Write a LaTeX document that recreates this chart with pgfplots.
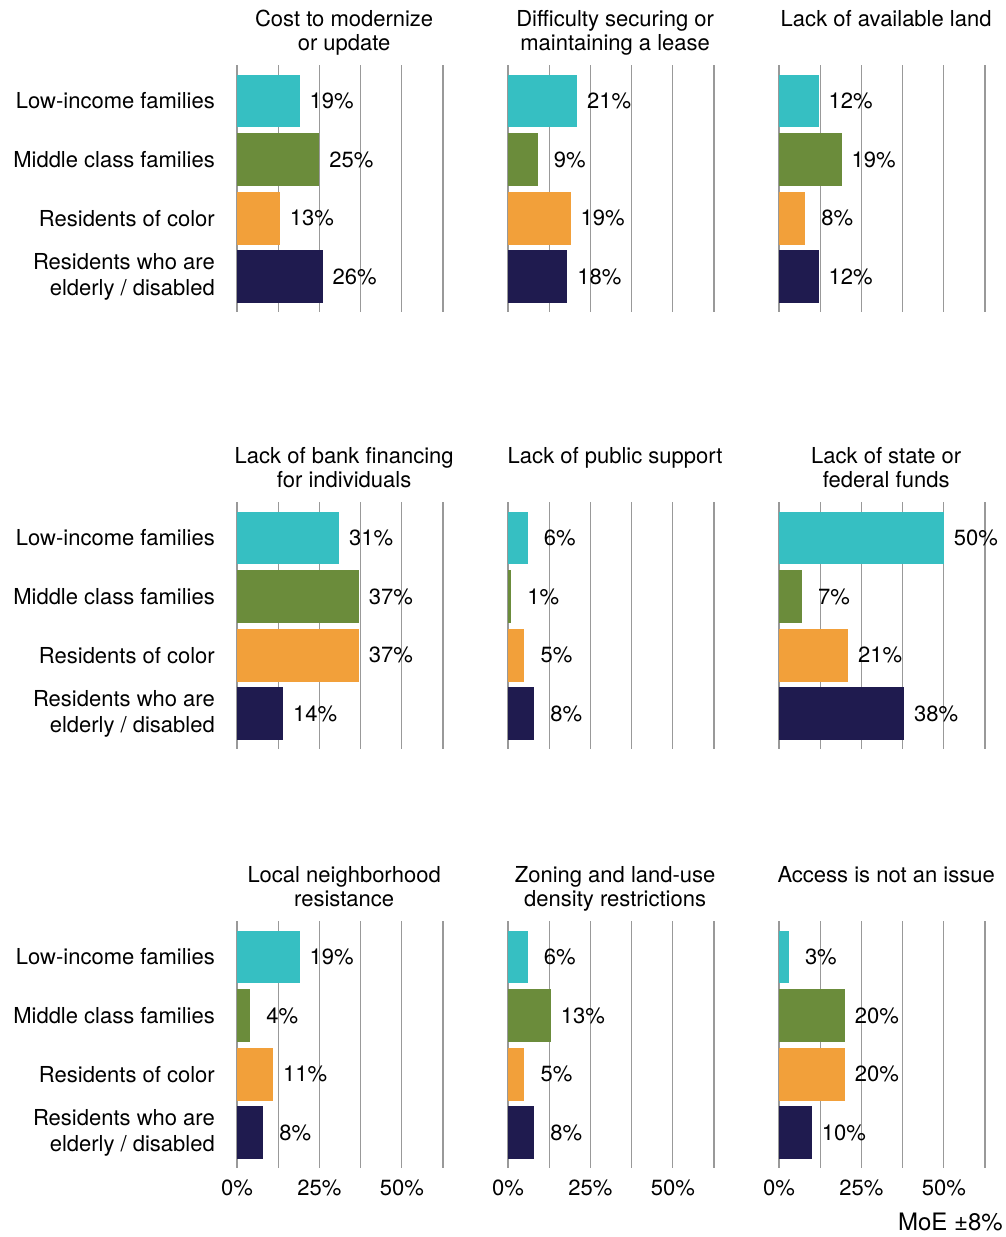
\documentclass[border=0pt]{standalone}
\usepackage{pgfplots}
\pgfplotsset{compat=1.18}
\usepackage{fontspec}
\setmainfont{TeX Gyre Heros}
\definecolor{cteal}{HTML}{36BFC2}
\definecolor{cgreen}{HTML}{6B8C3B}
\definecolor{corange}{HTML}{F2A03A}
\definecolor{cnavy}{HTML}{1F1B4F}
\definecolor{gridgray}{HTML}{999999}
\newcommand\F{\fontsize{22}{24}\selectfont}
\pgfplotsset{
  /pgf/number format/assume math mode=true,
  panel/.style={
    xbar, scale only axis, width=214.25pt, height=247pt,
    xmin=0, xmax=65, ymin=-0.613, ymax=3.6, y dir=reverse,
    bar width=0.9, bar shift=0pt,
    xtick={0,25,50}, minor xtick={12.5,37.5,62.5},
    xmajorgrids, xminorgrids,
    major grid style={draw=gridgray, line width=1.3pt},
    minor grid style={draw=gridgray, line width=1.3pt},
    major tick length=0pt, minor tick length=0pt,
    axis line style={draw=none},
    ytick={0,1,2,3}, yticklabels={}, xticklabels={},
    point meta=x,
    nodes near coords={\pgfmathprintnumber{\pgfplotspointmeta}\%},
    nodes near coords style={anchor=center, xshift=32pt, font=\F, text=black},
    anchor=north west, clip=false,
  },
  leftcol/.style={
    yticklabels={Low-income families, Middle class families, Residents of color, {Residents who are\\elderly / disabled}},
    yticklabel style={font=\fontsize{22}{26.5}\selectfont, align=right, inner sep=0pt, xshift=-22pt},
  },
  bottomrow/.style={
    xticklabels={0\%,25\%,50\%},
    xticklabel style={font=\F, inner sep=0pt, yshift=-12pt},
  },
}
\newcommand\ttl[3]{%
  \node[anchor=base, font=\F, inner sep=0pt] at ([yshift=39pt]#1.north) {#2};
  \node[anchor=base, font=\F, inner sep=0pt] at ([yshift=15pt]#1.north) {#3};
}
\newcommand\bars[4]{%
  \addplot[fill=cteal, draw=none] coordinates {(#1,0)};
  \addplot[fill=cgreen, draw=none] coordinates {(#2,1)};
  \addplot[fill=corange, draw=none] coordinates {(#3,2)};
  \addplot[fill=cnavy, draw=none] coordinates {(#4,3)};
}
\begin{document}
\begin{tikzpicture}
\path[use as bounding box] (0pt,0pt) rectangle (1006pt,-1237pt);
% Row 1
\begin{axis}[panel, leftcol, name=p1, at={(237pt,-65pt)}]
\bars{19}{25}{13}{26}
\end{axis}
\begin{axis}[panel, name=p2, at={(508pt,-65pt)}]
\bars{21}{9}{19}{18}
\end{axis}
\begin{axis}[panel, name=p3, at={(779pt,-65pt)}]
\bars{12}{19}{8}{12}
\end{axis}
% Row 2
\begin{axis}[panel, leftcol, name=p4, at={(237pt,-502pt)}]
\bars{31}{37}{37}{14}
\end{axis}
\begin{axis}[panel, name=p5, at={(508pt,-502pt)}]
\bars{6}{1}{5}{8}
\end{axis}
\begin{axis}[panel, name=p6, at={(779pt,-502pt)}]
\bars{50}{7}{21}{38}
\end{axis}
% Row 3
\begin{axis}[panel, leftcol, bottomrow, name=p7, at={(237pt,-921pt)}]
\bars{19}{4}{11}{8}
\end{axis}
\begin{axis}[panel, bottomrow, name=p8, at={(508pt,-921pt)}]
\bars{6}{13}{5}{8}
\end{axis}
\begin{axis}[panel, bottomrow, name=p9, at={(779pt,-921pt)}]
\bars{3}{20}{20}{10}
\end{axis}
\ttl{p1}{Cost to modernize}{or update}
\ttl{p2}{Difficulty securing or}{maintaining a lease}
\ttl{p3}{Lack of available land}{}
\ttl{p4}{Lack of bank financing}{for individuals}
\ttl{p5}{Lack of public support}{}
\ttl{p6}{Lack of state or}{federal funds}
\ttl{p7}{Local neighborhood}{resistance}
\ttl{p8}{Zoning and land-use}{density restrictions}
\ttl{p9}{Access is not an issue}{}
\node[anchor=base east, font=\fontsize{24}{26}\selectfont, inner sep=0pt] at (1003pt,-1230pt) {MoE ±8\%};
\end{tikzpicture}
\end{document}
